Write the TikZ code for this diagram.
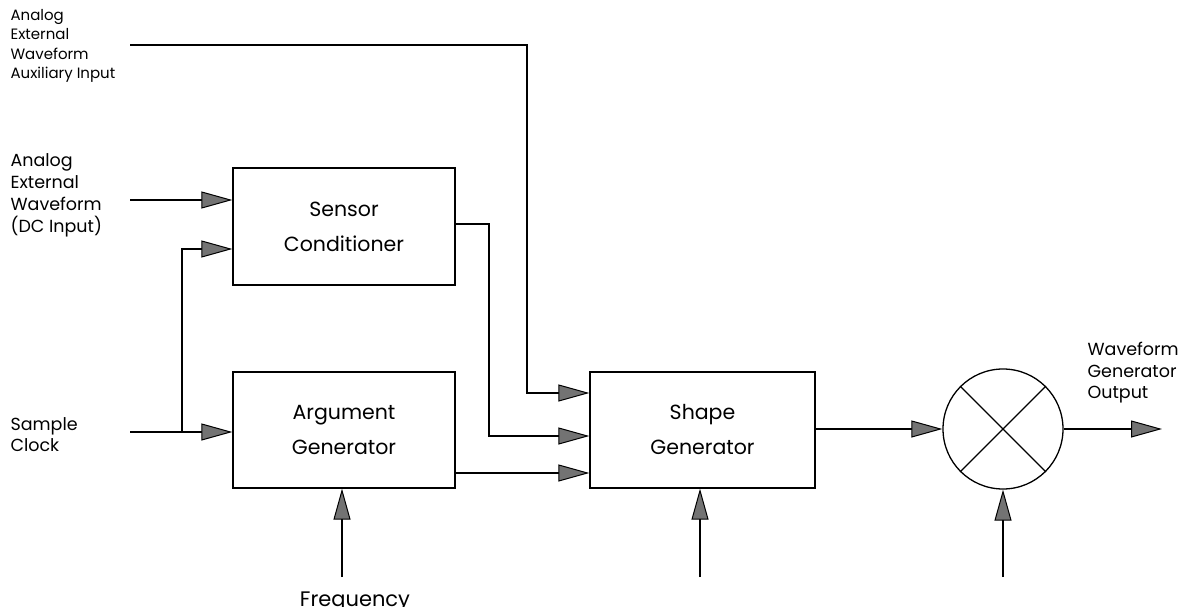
\documentclass[tikz,border=0pt]{standalone}
\usepackage{fontspec}
\setmainfont{Poppins}
\usetikzlibrary{arrows.meta,calc}
\begin{document}
\begin{tikzpicture}[x=1pt,y=-1pt,
  line width=1.2pt,
  blk/.style={draw,line width=1.3pt,inner sep=0pt,align=center,font=\fontsize{20.5}{35}\selectfont},
  arr/.style={-{Triangle[length=31pt,width=17pt,fill=black!55,line width=1pt]}},
  lbl/.style={inner sep=0pt,align=left,anchor=west},
]
\useasboundingbox (0,0) rectangle (1188,607);
% blocks
\node[blk,minimum width=222pt,minimum height=117pt] (sensor) at (344,226.5) {Sensor\\Conditioner};
\node[blk,minimum width=222pt,minimum height=116pt] (arg) at (344,430) {Argument\\Generator};
\node[blk,minimum width=225pt,minimum height=116pt] (shape) at (702.5,430) {Shape\\Generator};
\node[draw,circle,line width=1.3pt,minimum size=120pt,inner sep=0pt] (mul) at (1003,429) {};
\draw[line width=1.3pt] (mul.45) -- (mul.225) (mul.135) -- (mul.-45);
% labels
\node[lbl,font=\fontsize{15}{19.3}\selectfont] (auxlbl) at (10,46) {Analog\\External\\Waveform\\Auxiliary Input};
\node[lbl,font=\fontsize{17.5}{22}\selectfont] (dclbl) at (10,195) {Analog\\External\\Waveform\\(DC Input)};
\node[lbl,font=\fontsize{17.5}{21}\selectfont] (clklbl) at (10,435) {Sample\\Clock};
\node[lbl,font=\fontsize{17.5}{21.5}\selectfont] (outlbl) at (1087,373) {Waveform\\Generator\\Output};
\node[inner sep=0pt,anchor=base,font=\fontsize{21}{24}\selectfont] (freqlbl) at (355,606) {Frequency};
% coordinates
\coordinate (aux) at (130,45);
\coordinate (auxturn) at (527,393);
\coordinate (dcin) at (130,200);
\coordinate (clk) at (130,432);
\coordinate (clkbr) at (182,432);
\coordinate (clkup) at (182,249);
\coordinate (senturn) at (489,224);
\coordinate (sendown) at (489,436);
\coordinate (freqin) at (342,577);
\coordinate (shin) at (700,577);
\coordinate (mulin) at (1003,577);
\coordinate (out) at (1162,429);
% connectors
\draw[arr] (aux) -| (auxturn) -- (auxturn -| shape.west);
\draw[arr] (dcin) -- (dcin -| sensor.west);
\draw[arr] (clk) -- (clk -| arg.west);
\draw[arr] (clkbr) -- (clkup) -- (clkup -| sensor.west);
\draw[arr] (senturn -| sensor.east) -- (senturn) -- (sendown) -- (sendown -| shape.west);
\draw[arr] (arg.east |- 0,473) -- (shape.west |- 0,473);
\draw[arr] (freqin) -- (freqin |- arg.south);
\draw[arr] (shin) -- (shin |- shape.south);
\draw[arr] (mulin) -- (mul.south);
\draw[arr] (shape.east |- mul) -- (mul.west);
\draw[arr] (mul.east) -- (out);
\end{tikzpicture}
\end{document}
